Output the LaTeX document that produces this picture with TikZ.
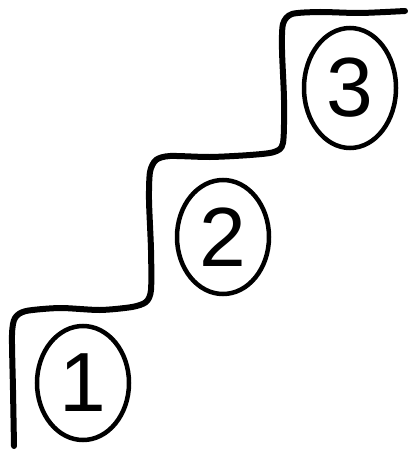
\documentclass[tikz,border=0pt]{standalone}
\usepackage{fontspec}
\setmainfont{Liberation Sans}
\usetikzlibrary{shapes.geometric}
\begin{document}
\begin{tikzpicture}[x=1pt,y=-1pt,
  stair/.style={line width=6pt,line cap=round,line join=round},
  numcircle/.style={draw,ellipse,line width=4.5pt,inner sep=0pt,
    minimum width=92pt,minimum height=114pt,
    font=\fontsize{84}{84}\selectfont}]
\useasboundingbox (0,0) rectangle (407,452);
\fill[white] (0,0) rectangle (407,452);
\draw[stair] plot[smooth,tension=0.45] coordinates {
  (14,446) (13,390) (12,335) (15,318) (26,311) (60,308) (100,310) (132,307) (146,302) (151,290)
  (151,250) (149,200) (150,172) (156,160) (170,156) (210,157) (250,155) (274,152) (283,143)
  (284,100) (282,50) (283,24) (292,14) (320,12) (360,13) (405,11)};
\node[numcircle] (c1) at (83,383) {1};
\node[numcircle] (c2) at (223,237) {2};
\node[numcircle,minimum height=120pt] (c3) at (350,88) {3};
\end{tikzpicture}
\end{document}
